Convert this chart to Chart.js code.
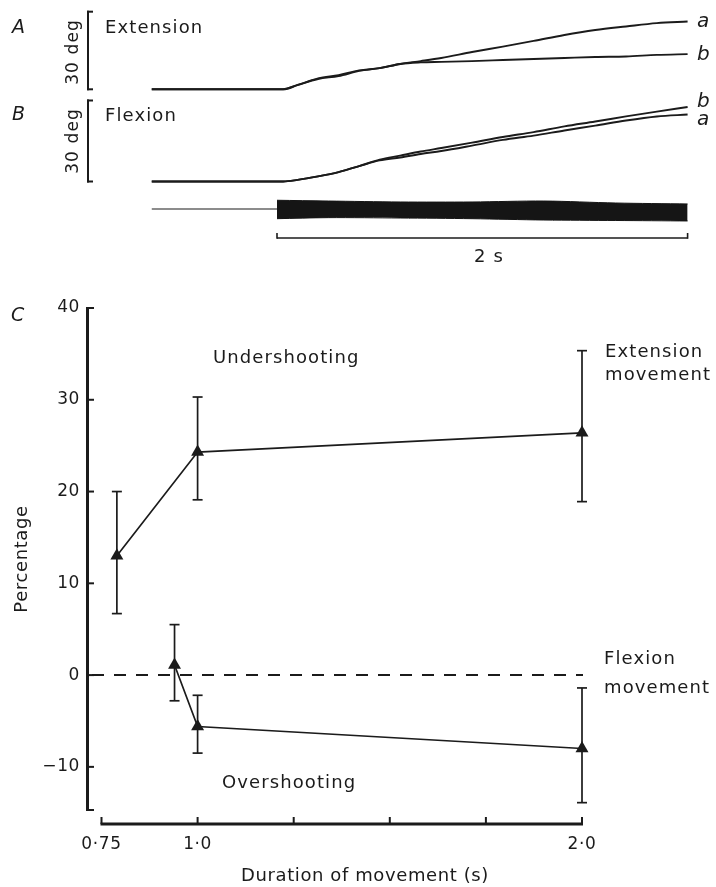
<!DOCTYPE html>
<html><head><meta charset="utf-8">
<script src="https://cdn.jsdelivr.net/npm/chart.js@4/dist/chart.umd.min.js"></script>
<style>
html,body{margin:0;padding:0;background:#fff;}
#wrap{position:relative;width:716px;height:887px;overflow:hidden;}
canvas{position:absolute;left:0;top:0;}
</style></head><body>
<div id="wrap"><canvas id="topChart" width="716" height="270"></canvas><canvas id="mainChart" width="716" height="887"></canvas></div>
<script>
// ================= DATA =================
// Panels A & B: joint angle traces (deg) vs time (s) from vibration onset
const traceTime       = [-0.61, 0, 0.03, 0.1, 0.2, 0.3, 0.4, 0.5, 0.6, 0.7, 0.8, 0.95, 1.1, 1.25, 1.4, 1.55, 1.7, 1.85, 2.0];
const extensionTraceA = [0, 0, 0, 1.7, 4.0, 5.1, 7.1, 8.2, 9.8, 10.9, 12.1, 14.4, 16.5, 18.7, 21.0, 22.9, 24.3, 25.6, 26.2];
const extensionTraceB = [0, 0, 0, 1.6, 4.2, 5.5, 7.3, 8.2, 9.8, 10.4, 10.6, 10.9, 11.3, 11.7, 12.1, 12.5, 12.7, 13.3, 13.6];
const flexionTraceA   = [0, 0, 0, 0.6, 1.9, 3.5, 5.7, 7.8, 8.9, 10.2, 11.3, 13.3, 15.4, 17.0, 18.9, 20.7, 22.6, 24.1, 24.8];
const flexionTraceB   = [0, 0, 0, 0.6, 1.9, 3.5, 5.7, 8.1, 9.6, 11.1, 12.4, 14.4, 16.5, 18.3, 20.4, 22.2, 24.1, 25.9, 27.6];
// Vibration record (arbitrary units)
const emgBaseTime  = [-0.61, 0];
const emgBaseValue = [0, 0];
const emgBandTime  = [0, 0.25, 0.6, 0.95, 1.3, 1.65, 2.0];
const emgUpper     = [0.92, 0.84, 0.74, 0.74, 0.84, 0.63, 0.53];
const emgLower     = [-1.02, -0.91, -0.95, -1.02, -1.16, -1.21, -1.26];
const timeScaleBar = [0, 2];      // seconds
const angleScaleBar = [0, 30];    // degrees

// Panel C: percentage error vs duration of movement (s)
const durationExt      = [0.79, 1.0, 2.0];
const extensionPct     = [13.0, 24.3, 26.4];
const extensionErrHigh = [20.0, 30.3, 35.35];
const extensionErrLow  = [6.7, 19.1, 18.9];
const durationFlex     = [0.94, 1.0, 2.0];
const flexionPct       = [1.1, -5.6, -8.0];
const flexionErrHigh   = [5.5, -2.2, -1.4];
const flexionErrLow    = [-2.8, -8.5, -13.9];
const yTicks    = [40, 30, 20, 10, 0, -10];
const yTickText = ['40', '30', '20', '10', '0', '\u221210'];
const xTicks    = [0.75, 1.0, 1.25, 1.5, 1.75, 2.0];
const xLabeledTicks = [0.75, 1.0, 2.0];
const xTickText = ['0\u00b775', '1\u00b70', '2\u00b70'];
const referenceLevel = [0];

// ================= LAYOUT / STYLE =================
const INK = '#1b1b1b';
const FONT = '"DejaVu Sans", Verdana, sans-serif';
const W = 716, TOP_H = 270;
const T0_PX = 277, PX_PER_S = 205.3;
const A0_PX = 89.3, PX_PER_DEG_A = 2.587;
const B0_PX = 181.5, PX_PER_DEG_B = 2.7;
const E0_PX = 209, PX_PER_UNIT_E = 9.5;
const TIME_BAR_LEVEL = -3.05;   // in vibration-record units
const BRACKET_X = 88;

function drawText(ctx, t) {
  ctx.save();
  ctx.font = (t.italic ? 'italic ' : '') + (t.size || 18) + 'px ' + FONT;
  ctx.letterSpacing = (t.spacing != null ? t.spacing : 1.1) + 'px';
  ctx.fillStyle = INK;
  ctx.textAlign = t.align || 'left';
  ctx.textBaseline = 'alphabetic';
  ctx.translate(t.x, t.y);
  if (t.rotate) ctx.rotate(t.rotate * Math.PI / 180);
  ctx.fillText(t.text, 0, 0);
  ctx.restore();
}
function seg(ctx, x1, y1, x2, y2) { ctx.beginPath(); ctx.moveTo(x1, y1); ctx.lineTo(x2, y2); ctx.stroke(); }

const topTexts = [
  {text: 'A', x: 12, y: 33, italic: true, size: 19, spacing: 0},
  {text: 'Extension', x: 105, y: 33},
  {text: 'B', x: 12, y: 120, italic: true, size: 19, spacing: 0},
  {text: 'Flexion', x: 105, y: 121},
  {text: '30 deg', x: 78, y: 52, rotate: -90, align: 'center', size: 17},
  {text: '30 deg', x: 78, y: 141, rotate: -90, align: 'center', size: 17},
  {text: 'a', x: 697, y: 26.5, italic: true, size: 20, spacing: 0},
  {text: 'b', x: 697, y: 59.5, italic: true, size: 20, spacing: 0},
  {text: 'b', x: 697, y: 106.5, italic: true, size: 20, spacing: 0},
  {text: 'a', x: 697, y: 125, italic: true, size: 20, spacing: 0},
  {text: '2 s', x: 489, y: 262, align: 'center'}
];
const mainTexts = [
  {text: 'C', x: 11, y: 321, italic: true, size: 19, spacing: 0},
  {text: 'Undershooting', x: 213, y: 363},
  {text: 'Overshooting', x: 222, y: 788},
  {text: 'Extension', x: 605, y: 357},
  {text: 'movement', x: 605, y: 380},
  {text: 'Flexion', x: 604, y: 664},
  {text: 'movement', x: 604, y: 693}
];

// ================= TOP CHART (A, B, vibration) =================
const pts = (xs, ys) => xs.map((x, i) => ({x, y: ys[i]}));
const traceStyle = {borderColor: INK, borderWidth: 1.9, pointRadius: 0, cubicInterpolationMode: 'monotone', fill: false};

const topDecor = {
  id: 'topDecor',
  afterDraw(chart) {
    const {ctx, scales} = chart;
    const {x, yA, yB, yE} = scales;
    ctx.save();
    ctx.strokeStyle = INK;
    ctx.lineCap = 'butt';
    ctx.lineWidth = 2;
    [yA, yB].forEach(ys => {
      const p0 = ys.getPixelForValue(angleScaleBar[0]), p1 = ys.getPixelForValue(angleScaleBar[1]);
      seg(ctx, BRACKET_X, p0 + 1, BRACKET_X, p1 - 1);
      seg(ctx, BRACKET_X - 1, p0, BRACKET_X + 5, p0);
      seg(ctx, BRACKET_X - 1, p1, BRACKET_X + 5, p1);
    });
    ctx.lineWidth = 1.6;
    const ty = yE.getPixelForValue(TIME_BAR_LEVEL);
    const tx0 = x.getPixelForValue(timeScaleBar[0]), tx1 = x.getPixelForValue(timeScaleBar[1]);
    seg(ctx, tx0, ty, tx1, ty);
    seg(ctx, tx0, ty + 0.8, tx0, ty - 5);
    seg(ctx, tx1, ty + 0.8, tx1, ty - 5);
    ctx.restore();
    topTexts.forEach(t => drawText(ctx, t));
  }
};

new Chart(document.getElementById('topChart'), {
  type: 'line',
  data: {
    datasets: [
      {label: 'Extension a', data: pts(traceTime, extensionTraceA), yAxisID: 'yA', ...traceStyle},
      {label: 'Extension b', data: pts(traceTime, extensionTraceB), yAxisID: 'yA', ...traceStyle},
      {label: 'Flexion a', data: pts(traceTime, flexionTraceA), yAxisID: 'yB', ...traceStyle},
      {label: 'Flexion b', data: pts(traceTime, flexionTraceB), yAxisID: 'yB', ...traceStyle},
      {label: 'Vibration baseline', data: pts(emgBaseTime, emgBaseValue), yAxisID: 'yE', borderColor: INK, borderWidth: 1.2, pointRadius: 0, fill: false},
      {label: 'Vibration upper', data: pts(emgBandTime, emgUpper), yAxisID: 'yE', borderColor: '#151515', borderWidth: 1, pointRadius: 0, tension: 0.3, fill: '+1', backgroundColor: '#151515'},
      {label: 'Vibration lower', data: pts(emgBandTime, emgLower), yAxisID: 'yE', borderColor: '#151515', borderWidth: 1, pointRadius: 0, tension: 0.3, fill: false}
    ]
  },
  options: {
    responsive: false, animation: false, devicePixelRatio: 1,
    layout: {padding: 0},
    plugins: {legend: {display: false}, tooltip: {enabled: false}},
    scales: {
      x: {type: 'linear', display: false, min: -T0_PX / PX_PER_S, max: (W - T0_PX) / PX_PER_S},
      yA: {type: 'linear', display: false, min: -(TOP_H - A0_PX) / PX_PER_DEG_A, max: A0_PX / PX_PER_DEG_A},
      yB: {type: 'linear', display: false, min: -(TOP_H - B0_PX) / PX_PER_DEG_B, max: B0_PX / PX_PER_DEG_B},
      yE: {type: 'linear', display: false, min: -(TOP_H - E0_PX) / PX_PER_UNIT_E, max: E0_PX / PX_PER_UNIT_E}
    }
  },
  plugins: [topDecor]
});

// ================= PANEL C =================
const C_LEFT = 87, C_TOP = 308, C_BOTTOM = 810, C_RIGHT = 643;
const X_AXIS_GAP = 14, TICK_LEN = 7;

const mainDecor = {
  id: 'mainDecor',
  beforeDraw(chart) { chart.ctx.letterSpacing = '0.6px'; },
  beforeDatasetsDraw(chart) {
    const {ctx, scales: {x, y}, chartArea} = chart;
    ctx.save();
    ctx.letterSpacing = '0px';
    ctx.strokeStyle = INK;
    ctx.lineCap = 'butt';
    const axisY = chartArea.bottom + X_AXIS_GAP;
    const xa = x.getPixelForValue(xTicks[0]), xb = x.getPixelForValue(xTicks[xTicks.length - 1]);
    ctx.lineWidth = 3;
    seg(ctx, xa - 1, axisY, xb + 1, axisY);
    ctx.lineWidth = 2;
    xTicks.forEach(v => { const p = x.getPixelForValue(v); seg(ctx, p, axisY, p, axisY - TICK_LEN); });
    const axisX = chartArea.left;
    [...yTicks, y.min].forEach(v => { const p = y.getPixelForValue(v); seg(ctx, axisX, p, axisX + TICK_LEN, p); });
    ctx.setLineDash([12, 10]);
    ctx.lineWidth = 2;
    const zy = y.getPixelForValue(referenceLevel[0]);
    seg(ctx, axisX + 5, zy, xb + 1, zy);
    ctx.setLineDash([]);
    ctx.lineWidth = 1.7;
    chart.data.datasets.forEach(ds => {
      ds.data.forEach((p, i) => {
        const px = x.getPixelForValue(p.x);
        const hi = y.getPixelForValue(ds.errHigh[i]), lo = y.getPixelForValue(ds.errLow[i]);
        seg(ctx, px, hi, px, lo);
        seg(ctx, px - 5, hi, px + 5, hi);
        seg(ctx, px - 5, lo, px + 5, lo);
      });
    });
    ctx.restore();
  },
  afterDraw(chart) { mainTexts.forEach(t => drawText(chart.ctx, t)); }
};

const PX_PER_X = 384.4, X075_PX = 101.5;
const markerStyle = {borderColor: INK, borderWidth: 1.7, pointStyle: 'triangle', pointRadius: 7.5, pointBackgroundColor: INK, pointBorderColor: INK, pointBorderWidth: 0, tension: 0, fill: false};
new Chart(document.getElementById('mainChart'), {
  type: 'line',
  data: {
    datasets: [
      {label: 'Extension movement', data: pts(durationExt, extensionPct), errHigh: extensionErrHigh, errLow: extensionErrLow, ...markerStyle},
      {label: 'Flexion movement', data: pts(durationFlex, flexionPct), errHigh: flexionErrHigh, errLow: flexionErrLow, ...markerStyle}
    ]
  },
  options: {
    responsive: false, animation: false, devicePixelRatio: 1,
    layout: {padding: {left: 0, top: C_TOP, right: W - C_RIGHT, bottom: 0}},
    plugins: {legend: {display: false}, tooltip: {enabled: false}},
    scales: {
      x: {
        type: 'linear', position: 'bottom',
        min: 0.75 - (X075_PX - C_LEFT) / PX_PER_X,
        max: 0.75 + (C_RIGHT - X075_PX) / PX_PER_X,
        grid: {display: false, drawTicks: false},
        border: {display: false},
        afterBuildTicks: s => { s.ticks = xTicks.map(v => ({value: v})); },
        afterFit: s => { s.height = 887 - C_BOTTOM; },
        ticks: {
          autoSkip: false, maxRotation: 0, minRotation: 0, padding: 24, color: INK,
          font: {family: FONT, size: 17},
          callback: v => { const i = xLabeledTicks.findIndex(t => Math.abs(t - v) < 1e-9); return i >= 0 ? xTickText[i] : ''; }
        },
        title: {display: true, text: 'Duration of movement (s)', color: INK, font: {family: FONT, size: 18}, padding: {top: 0, bottom: 0}}
      },
      y: {
        type: 'linear', position: 'left', min: -14.7, max: 40,
        grid: {display: false, drawTicks: false},
        border: {display: true, width: 3, color: INK},
        afterBuildTicks: s => { s.ticks = yTicks.map(v => ({value: v})); },
        afterFit: s => { s.width = C_LEFT; },
        ticks: {
          autoSkip: false, padding: 7, color: INK,
          font: {family: FONT, size: 17},
          callback: v => { const i = yTicks.indexOf(v); return i >= 0 ? yTickText[i] : ''; }
        },
        title: {display: true, text: 'Percentage', color: INK, font: {family: FONT, size: 18}, padding: {top: 12, bottom: 0}}
      }
    }
  },
  plugins: [mainDecor]
});
</script>
</body></html>
